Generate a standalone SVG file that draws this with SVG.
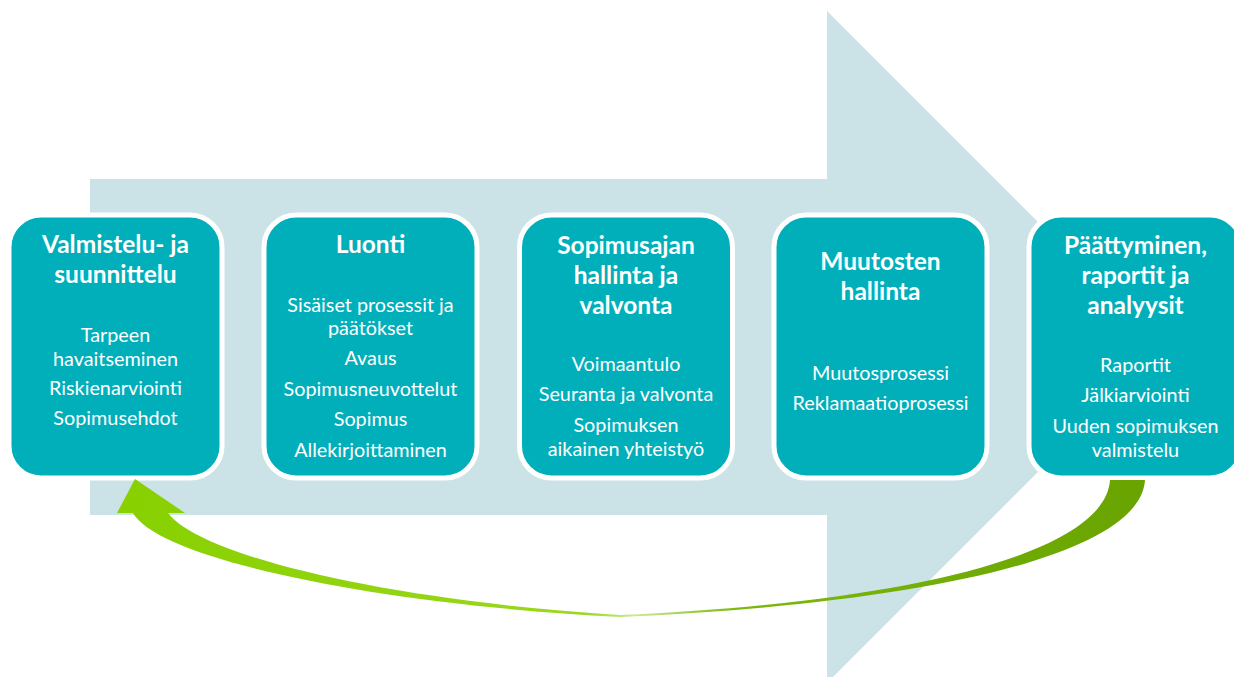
<svg xmlns="http://www.w3.org/2000/svg" width="1234" height="677" viewBox="0 0 1234 677">
  <style>
    .box { fill: #01AFBB; stroke: #FFFFFF; stroke-width: 5; }
    .title { font-family: Lato, "Open Sans", sans-serif; font-weight: bold; font-size: 24.5px; fill: #FFFFFF; text-anchor: middle; }
    .item { font-family: Lato, "Open Sans", sans-serif; font-size: 19.8px; fill: #FFFFFF; text-anchor: middle; }
  </style>
  <defs>
    <linearGradient id="loopGrad" x1="120" y1="0" x2="1150" y2="0" gradientUnits="userSpaceOnUse">
      <stop offset="0" stop-color="#88D000"/>
      <stop offset="0.45" stop-color="#9AD81C"/>
      <stop offset="0.5" stop-color="#C8EA90"/>
      <stop offset="0.6" stop-color="#7CB80C"/>
      <stop offset="1" stop-color="#68A300"/>
    </linearGradient>
  </defs>

  <rect width="1234" height="677" fill="#FFFFFF"/>

  <!-- large background process arrow -->
  <polygon id="process-arrow" points="90,179 827,179 827,11 1163,347 827,683 827,515 90,515" fill="#CBE2E6"/>

  <g id="stage-1">
    <rect class="box" x="9" y="215" width="213" height="263" rx="32"/>
    <text class="title" x="115.5" y="253">Valmistelu- ja</text>
    <text class="title" x="115.5" y="283">suunnittelu</text>
    <text class="item" x="115.5" y="342">Tarpeen</text>
    <text class="item" x="115.5" y="366">havaitseminen</text>
    <text class="item" x="115.5" y="395">Riskienarviointi</text>
    <text class="item" x="115.5" y="425">Sopimusehdot</text>
  </g>

  <g id="stage-2">
    <rect class="box" x="264" y="215" width="213" height="263" rx="32"/>
    <text class="title" x="370.5" y="253">Luonti</text>
    <text class="item" x="370.5" y="312">Sisäiset prosessit ja</text>
    <text class="item" x="370.5" y="335">päätökset</text>
    <text class="item" x="370.5" y="365">Avaus</text>
    <text class="item" x="370.5" y="396">Sopimusneuvottelut</text>
    <text class="item" x="370.5" y="426">Sopimus</text>
    <text class="item" x="370.5" y="457">Allekirjoittaminen</text>
  </g>

  <g id="stage-3">
    <rect class="box" x="519.5" y="215" width="213" height="263" rx="32"/>
    <text class="title" x="626" y="254">Sopimusajan</text>
    <text class="title" x="626" y="284">hallinta ja</text>
    <text class="title" x="626" y="314">valvonta</text>
    <text class="item" x="626" y="371">Voimaantulo</text>
    <text class="item" x="626" y="401">Seuranta ja valvonta</text>
    <text class="item" x="626" y="432">Sopimuksen</text>
    <text class="item" x="626" y="456">aikainen yhteistyö</text>
  </g>

  <g id="stage-4">
    <rect class="box" x="774" y="215" width="213" height="263" rx="32"/>
    <text class="title" x="880.5" y="270">Muutosten</text>
    <text class="title" x="880.5" y="300">hallinta</text>
    <text class="item" x="880.5" y="380">Muutosprosessi</text>
    <text class="item" x="880.5" y="410">Reklamaatioprosessi</text>
  </g>

  <g id="stage-5">
    <rect class="box" x="1029" y="215" width="213" height="263" rx="32"/>
    <text class="title" x="1135.5" y="254">Päättyminen,</text>
    <text class="title" x="1135.5" y="284">raportit ja</text>
    <text class="title" x="1135.5" y="314">analyysit</text>
    <text class="item" x="1135.5" y="372">Raportit</text>
    <text class="item" x="1135.5" y="402">Jälkiarviointi</text>
    <text class="item" x="1135.5" y="433">Uuden sopimuksen</text>
    <text class="item" x="1135.5" y="457">valmistelu</text>
  </g>

  <!-- feedback loop from the last stage back to the first -->
  <g id="connectors">
    <path id="feedback-loop" fill="url(#loopGrad)"
          d="M1145,480 C1140,560 900,605 620,617 C380,605 160,560 133,513 L117,513 L135,479 L185,513 L168,513 C200,555 380,600 620,615 C900,603 1105,555 1110,480 Z"/>
  </g>
</svg>
